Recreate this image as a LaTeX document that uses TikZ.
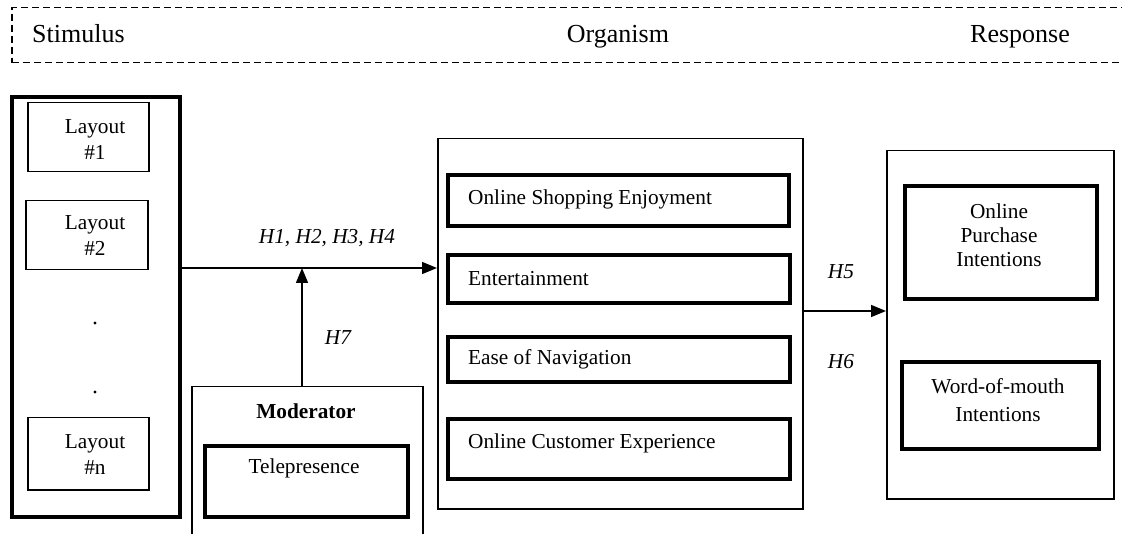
\documentclass[tikz,border=0pt]{standalone}
\usepackage{fontspec}
\setmainfont{Liberation Serif}
\usetikzlibrary{arrows.meta}
\begin{document}
\begin{tikzpicture}[x=1pt,y=-1pt,
  thinbox/.style={draw, line width=1.5pt, inner sep=0pt, anchor=north west},
  thickbox/.style={draw, line width=3.6pt, inner sep=0pt, anchor=north west},
  headbox/.style={draw, line width=1.5pt, dash pattern=on 7pt off 4pt, inner sep=0pt, anchor=north west},
  lbl/.style={font=\fontsize{21.3}{26}\selectfont, inner sep=0pt, align=center},
  lbll/.style={font=\fontsize{21.3}{26}\selectfont, inner sep=0pt, anchor=west},
  hlbl/.style={font=\fontsize{21.3}{26}\selectfont\itshape, inner sep=0pt},
  head/.style={font=\fontsize{26}{30}\selectfont, inner sep=0pt, anchor=base},
  arr/.style={line width=1.5pt, -{Triangle[length=15pt,width=12pt]}},
]
\useasboundingbox (0,0) rectangle (1122,534);
\clip (0,0) rectangle (1122,534);

% header band
\node[headbox, minimum width=1130pt, minimum height=55pt] (header) at (11,7) {};
\node[head, anchor=base west] (stim) at (32,43) {Stimulus};
\node[head] (org) at (618,43) {Organism};
\node[head] (resp) at (1020,43) {Response};

% stimulus
\node[thickbox, minimum width=168pt, minimum height=420pt] (leftbox) at (10,95) {};
\node[thinbox, minimum width=121pt, minimum height=69pt] (lay1) at (27,102) {};
\node[thinbox, minimum width=122pt, minimum height=69pt] (lay2) at (25,200) {};
\node[thinbox, minimum width=121pt, minimum height=72pt] (layn) at (27,417) {};
\node[lbl] (t1) at (95,140) {Layout\\\#1};
\node[lbl] (t2) at (95,236) {Layout\\\#2};
\node[lbl] (tn) at (95,455) {Layout\\\#n};
\fill (95,323) circle (1.6);
\fill (95,392) circle (1.6);

% moderator
\node[thinbox, minimum width=231pt, minimum height=200pt] (modbox) at (191,386) {};
\node[lbl, font=\fontsize{21.3}{26}\selectfont\bfseries] (modt) at (306,411) {Moderator};
\node[thickbox, minimum width=203pt, minimum height=71pt] (tele) at (203,444) {};
\node[lbl] (telet) at (304,468) {Telepresence};

% organism
\node[thinbox, minimum width=365pt, minimum height=370pt] (midbox) at (437,138) {};
\node[thickbox, minimum width=341pt, minimum height=51pt] (ose) at (446,173) {};
\node[thickbox, minimum width=342pt, minimum height=48pt] (ent) at (446,253) {};
\node[thickbox, minimum width=342pt, minimum height=45pt] (eon) at (446,335) {};
\node[thickbox, minimum width=342pt, minimum height=60pt] (oce) at (446,417) {};
\node[lbll] (oset) at (468,199) {Online Shopping Enjoyment};
\node[lbll] (entt) at (468,279) {Entertainment};
\node[lbll] (eont) at (468,359) {Ease of Navigation};
\node[lbll] (ocet) at (468,443) {Online Customer Experience};

% response
\node[thinbox, minimum width=227pt, minimum height=348pt] (rightbox) at (886,150) {};
\node[thickbox, minimum width=192pt, minimum height=113pt] (opi) at (903,184) {};
\node[thickbox, minimum width=197pt, minimum height=87pt] (wom) at (900,360) {};
\node[lbl, font=\fontsize{21.3}{24}\selectfont] (opit) at (999,235) {Online\\Purchase\\Intentions};
\node[lbl, font=\fontsize{21.3}{28}\selectfont] (womt) at (998,400) {Word-of-mouth\\Intentions};

% connectors
\coordinate (j) at (302,268);
\coordinate (k) at (0,311);
\draw[arr] (leftbox.east |- j) -- (midbox.west |- j);
\draw[arr] (modbox.north -| j) -- (j);
\draw[arr] (midbox.east |- k) -- (rightbox.west |- k);

\node[hlbl] (h14) at (327,238) {H1, H2, H3, H4};
\node[hlbl] (h7) at (338,338) {H7};
\node[hlbl] (h5) at (841,272) {H5};
\node[hlbl] (h6) at (841,362) {H6};
\end{tikzpicture}
\end{document}
